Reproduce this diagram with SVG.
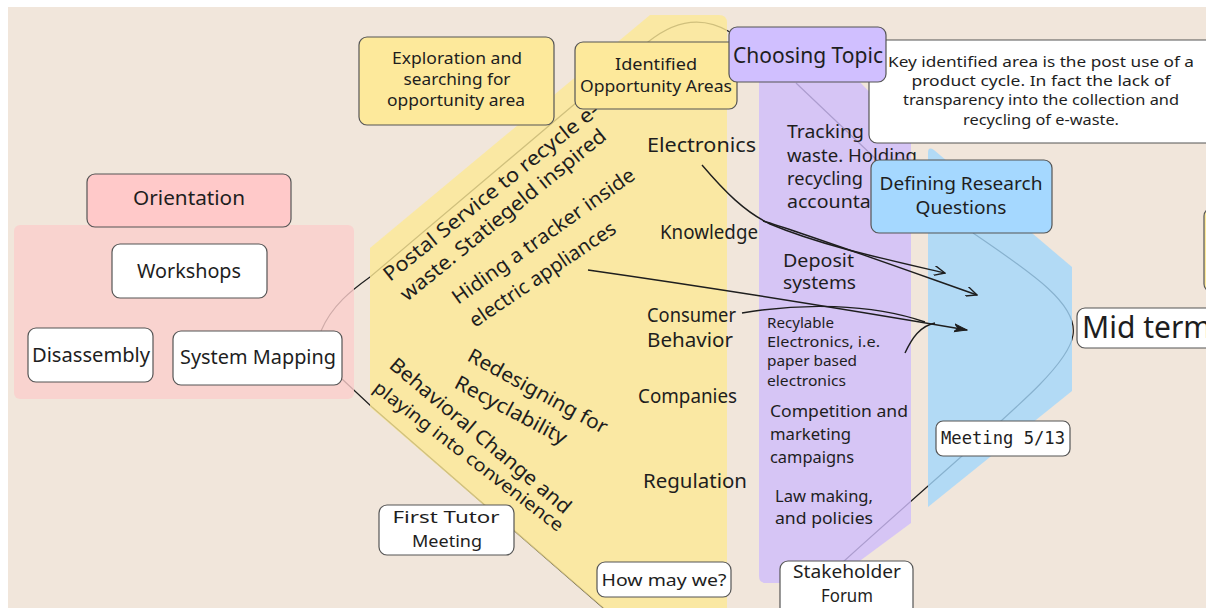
<svg xmlns="http://www.w3.org/2000/svg" width="1206" height="608" viewBox="0 0 1206 608">
<defs>
<style>
.n{stroke:#555;stroke-width:1.2}
.w{fill:#fff}
.y{fill:#fde99b}
.t{font-family:"Noto Sans","Open Sans",sans-serif;fill:#1e1e1e}
.m{font-family:"DejaVu Sans Mono","Liberation Mono",monospace;fill:#1e1e1e}
.c{text-anchor:middle}
.ln{fill:none;stroke:#1e1e1e;stroke-width:1.2}
.ar{fill:none;stroke:#1e1e1e;stroke-width:1.4}
.band{fill-opacity:0.8}
</style>
<marker id="ah" viewBox="0 0 12 10" refX="11" refY="5" markerWidth="12" markerHeight="10" markerUnits="userSpaceOnUse" orient="auto"><path d="M0,0 L11,5 L0,10" fill="none" stroke="#1e1e1e" stroke-width="1.4"/></marker>
<marker id="ahb" viewBox="0 0 14 10" refX="13" refY="5" markerWidth="14" markerHeight="10" markerUnits="userSpaceOnUse" orient="auto"><path d="M0,1 L13,5 L0,9 L4,5 Z" fill="#1e1e1e" stroke="#1e1e1e" stroke-width="1"/></marker>
</defs>
<rect width="1206" height="608" fill="#ffffff"/>
<rect x="8" y="7" width="1198" height="601" fill="#f1e6db"/>

<g id="links">
<path class="ln" d="M321,331 C332,305 352,290 370,277 L648,42 Q690,8 730,32"/>
<path class="ln" d="M342,379 L372,407 L608,612"/>
<path class="ln" d="M796,83 L877,160"/>
<path class="ln" d="M973,233 C1035,275 1078,305 1073,335 C1068,370 1000,420 843,562"/>
</g>

<g id="regions">
<rect class="band" x="14" y="225" width="340" height="174" rx="6" fill="#fbcecc"/>
<path class="band" d="M650,15 L719,15 Q727,15 727,23 L727,640 L640,640 L370,407 L370,248 Z" fill="#fde895"/>
<path class="band" d="M759,75 L853,75 L911,135 L911,523 L830,583 L766,583 Q759,583 759,576 Z" fill="#cfbdfb"/>
<path class="band" d="M928,153 Q928,146 934,150 L1072,267 L1072,391 L928,507 Z" fill="#a3d7fb"/>
</g>

<g id="labels">
<text class="t" font-size="20" transform="translate(390,282) rotate(-38.8)" textLength="270" lengthAdjust="spacingAndGlyphs">Postal Service to recycle e-</text>
<text class="t" font-size="20" transform="translate(407,302) rotate(-39.2)" textLength="259" lengthAdjust="spacingAndGlyphs">waste. Statiegeld inspired</text>
<text class="t" font-size="20" transform="translate(458,305) rotate(-35.4)" textLength="219" lengthAdjust="spacingAndGlyphs">Hiding a tracker inside</text>
<text class="t" font-size="20" transform="translate(475,328) rotate(-34)" textLength="172" lengthAdjust="spacingAndGlyphs">electric appliances</text>
<text class="t" font-size="20" transform="translate(466,360) rotate(28.5)" textLength="156" lengthAdjust="spacingAndGlyphs">Redesigning for</text>
<text class="t" font-size="20" transform="translate(453,387) rotate(28)" textLength="124" lengthAdjust="spacingAndGlyphs">Recyclability</text>
<text class="t" font-size="20" transform="translate(388,367) rotate(40)" textLength="230" lengthAdjust="spacingAndGlyphs">Behavioral Change and</text>
<text class="t" font-size="18" transform="translate(372,390) rotate(37.5)" textLength="234" lengthAdjust="spacingAndGlyphs">playing into convenience</text>

<text class="t" font-size="19" x="647" y="152" textLength="109" lengthAdjust="spacingAndGlyphs">Electronics</text>
<text class="t" font-size="19" x="660" y="239" textLength="98" lengthAdjust="spacingAndGlyphs">Knowledge</text>
<text class="t" font-size="19" x="647" y="322" textLength="89" lengthAdjust="spacingAndGlyphs">Consumer</text>
<text class="t" font-size="19" x="647" y="347" textLength="86" lengthAdjust="spacingAndGlyphs">Behavior</text>
<text class="t" font-size="19" x="638" y="403" textLength="99" lengthAdjust="spacingAndGlyphs">Companies</text>
<text class="t" font-size="19" x="643" y="488" textLength="104" lengthAdjust="spacingAndGlyphs">Regulation</text>

<text class="t" font-size="18" x="787" y="138" textLength="77" lengthAdjust="spacingAndGlyphs">Tracking</text>
<text class="t" font-size="18" x="787" y="162" textLength="130" lengthAdjust="spacingAndGlyphs">waste. Holding</text>
<text class="t" font-size="18" x="787" y="185" textLength="76" lengthAdjust="spacingAndGlyphs">recycling</text>
<text class="t" font-size="18" x="787" y="208" textLength="128" lengthAdjust="spacingAndGlyphs">accountability</text>
<text class="t" font-size="18" x="783" y="267" textLength="71" lengthAdjust="spacingAndGlyphs">Deposit</text>
<text class="t" font-size="18" x="783" y="289" textLength="73" lengthAdjust="spacingAndGlyphs">systems</text>
<text class="t" font-size="14.5" x="767" y="328" textLength="67" lengthAdjust="spacingAndGlyphs">Recylable</text>
<text class="t" font-size="14.5" x="767" y="347" textLength="113" lengthAdjust="spacingAndGlyphs">Electronics, i.e.</text>
<text class="t" font-size="14.5" x="767" y="366" textLength="90" lengthAdjust="spacingAndGlyphs">paper based</text>
<text class="t" font-size="14.5" x="767" y="386" textLength="79" lengthAdjust="spacingAndGlyphs">electronics</text>
<text class="t" font-size="16" x="770" y="417" textLength="138" lengthAdjust="spacingAndGlyphs">Competition and</text>
<text class="t" font-size="16" x="770" y="440" textLength="81" lengthAdjust="spacingAndGlyphs">marketing</text>
<text class="t" font-size="16" x="770" y="463" textLength="84" lengthAdjust="spacingAndGlyphs">campaigns</text>
<text class="t" font-size="16" x="775" y="502" textLength="98" lengthAdjust="spacingAndGlyphs">Law making,</text>
<text class="t" font-size="16" x="775" y="524" textLength="98" lengthAdjust="spacingAndGlyphs">and policies</text>
</g>

<g id="connectors">
<path class="ar" d="M702,165 C725,192 745,212 770,224 C820,245 880,258 945,273" marker-end="url(#ah)"/>
<path class="ar" d="M763,221 C800,232 850,250 977,295" marker-end="url(#ah)"/>
<path class="ar" d="M588,270 C700,286 850,310 967,330" stroke-width="1.6" marker-end="url(#ahb)"/>
<path class="ar" d="M742,313 C800,303 870,303 925,322"/>
<path class="ar" d="M905,353 C912,338 920,326 935,323"/>
</g>

<g id="orientation"><rect class="n" x="87" y="174" width="204" height="53" rx="8" fill="#ffc9c9"/><text class="t c" font-size="19" x="189" y="205" textLength="112" lengthAdjust="spacingAndGlyphs">Orientation</text></g>
<g id="workshops"><rect class="n w" x="112" y="244" width="155" height="54" rx="8"/><text class="t c" font-size="19" x="189" y="278" textLength="104" lengthAdjust="spacingAndGlyphs">Workshops</text></g>
<g id="disassembly"><rect class="n w" x="28" y="328" width="125" height="54" rx="8"/><text class="t c" font-size="19" x="91" y="362" textLength="118" lengthAdjust="spacingAndGlyphs">Disassembly</text></g>
<g id="system-mapping"><rect class="n w" x="173" y="331" width="169" height="54" rx="8"/><text class="t c" font-size="19" x="258" y="364" textLength="156" lengthAdjust="spacingAndGlyphs">System Mapping</text></g>

<g id="exploration"><rect class="n y" x="359" y="37" width="195" height="88" rx="8"/>
<text class="t c" font-size="16" x="457" y="64" textLength="130" lengthAdjust="spacingAndGlyphs">Exploration and</text>
<text class="t c" font-size="16" x="457" y="85" textLength="107" lengthAdjust="spacingAndGlyphs">searching for</text>
<text class="t c" font-size="16" x="456" y="106" textLength="138" lengthAdjust="spacingAndGlyphs">opportunity area</text></g>

<g id="identified"><rect class="n y" x="575" y="42" width="162" height="67" rx="8"/>
<text class="t c" font-size="16" x="656" y="70" textLength="82" lengthAdjust="spacingAndGlyphs">Identified</text>
<text class="t c" font-size="16" x="656" y="92" textLength="152" lengthAdjust="spacingAndGlyphs">Opportunity Areas</text></g>

<g id="key-area"><rect class="n w" x="869" y="40" width="350" height="103" rx="8"/>
<text class="t c" font-size="15" x="1041" y="67" textLength="306" lengthAdjust="spacingAndGlyphs">Key identified area is the post use of a</text>
<text class="t c" font-size="15" x="1041" y="86" textLength="259" lengthAdjust="spacingAndGlyphs">product cycle. In fact the lack of</text>
<text class="t c" font-size="15" x="1041" y="105" textLength="276" lengthAdjust="spacingAndGlyphs">transparency into the collection and</text>
<text class="t c" font-size="15" x="1041" y="125" textLength="156" lengthAdjust="spacingAndGlyphs">recycling of e-waste.</text></g>

<g id="choosing-topic"><rect class="n" x="729" y="27" width="157" height="55" rx="8" fill="#d0bfff"/>
<text class="t c" font-size="21" x="808" y="63" textLength="150" lengthAdjust="spacingAndGlyphs">Choosing Topic</text></g>

<g id="research-questions"><rect class="n" x="871" y="160" width="181" height="73" rx="8" fill="#a5d8ff"/>
<text class="t c" font-size="18" x="961" y="190" textLength="163" lengthAdjust="spacingAndGlyphs">Defining Research</text>
<text class="t c" font-size="18" x="961" y="214" textLength="91" lengthAdjust="spacingAndGlyphs">Questions</text></g>

<g id="right-node"><rect class="n y" x="1204" y="208" width="20" height="84" rx="8"/></g>

<g id="mid-term"><rect class="n w" x="1077" y="308" width="150" height="40" rx="8"/>
<text class="t" font-size="30" x="1082" y="338">Mid term</text></g>

<g id="meeting-513"><rect class="n w" x="936" y="421" width="134" height="35" rx="7"/>
<text class="m c" font-size="17" x="1003" y="444" textLength="124" lengthAdjust="spacingAndGlyphs">Meeting 5/13</text></g>

<g id="first-tutor"><rect class="n w" x="379" y="505" width="135" height="50" rx="8"/>
<text class="t c" font-size="17" x="446" y="523" textLength="107" lengthAdjust="spacingAndGlyphs">First Tutor</text>
<text class="t c" font-size="17" x="447" y="547" textLength="70" lengthAdjust="spacingAndGlyphs">Meeting</text></g>

<g id="how-may-we"><rect class="n w" x="597" y="562" width="134" height="35" rx="8"/>
<text class="t c" font-size="17" x="664" y="586" textLength="125" lengthAdjust="spacingAndGlyphs">How may we?</text></g>

<g id="stakeholder"><rect class="n w" x="780" y="561" width="133" height="60" rx="8"/>
<text class="t c" font-size="18" x="847" y="578" textLength="108" lengthAdjust="spacingAndGlyphs">Stakeholder</text>
<text class="t c" font-size="18" x="847" y="602" textLength="52" lengthAdjust="spacingAndGlyphs">Forum</text></g>
</svg>
